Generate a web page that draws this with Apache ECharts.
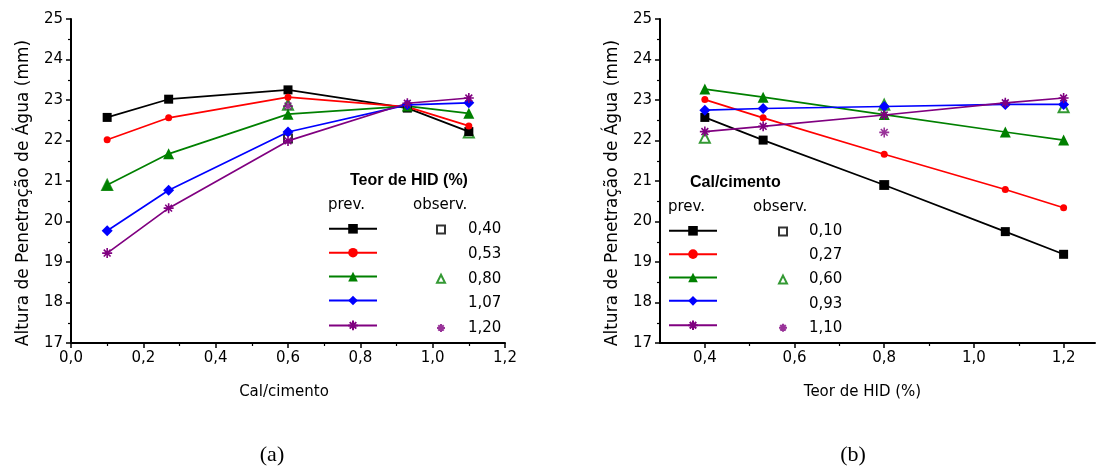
<!DOCTYPE html>
<html>
<head>
<meta charset="utf-8">
<script src="https://cdn.jsdelivr.net/npm/echarts@6/dist/echarts.min.js"></script>
<style>
html,body{margin:0;padding:0;background:#fff;}
#chart{width:1096px;height:468px;}
</style>
</head>
<body>
<div id="chart"></div>
<script>
// ---------- DATA ----------
const calCimento = [0.1, 0.27, 0.6, 0.93, 1.1];       // x of panel (a)
const teorHID = [0.4, 0.53, 0.8, 1.07, 1.2];          // x of panel (b)
const hidLabels = ['0,40', '0,53', '0,80', '1,07', '1,20'];
const calLabels = ['0,10', '0,27', '0,60', '0,93', '1,10'];
const yTicks = [17, 18, 19, 20, 21, 22, 23, 24, 25];
const xTicksA = [0.0, 0.2, 0.4, 0.6, 0.8, 1.0, 1.2];
const xTicksB = [0.4, 0.6, 0.8, 1.0, 1.2];
const xMinorB = [0.5, 0.7, 0.9, 1.1];

// panel (a): predicted, one series per HID content
const prevHid040 = [22.57, 23.02, 23.25, 22.80, 22.22];
const prevHid053 = [22.02, 22.56, 23.07, 22.83, 22.36];
const prevHid080 = [20.90, 21.67, 22.65, 22.85, 22.67];
const prevHid107 = [19.77, 20.77, 22.21, 22.88, 22.93];
const prevHid120 = [19.22, 20.33, 21.99, 22.92, 23.05];
// panel (a): observed
const obsHid040X = [0.6];            const obsHid040Y = [22.05];
const obsHid053X = [];               const obsHid053Y = [];
const obsHid080X = [0.1, 0.6, 1.1];  const obsHid080Y = [20.90, 22.88, 22.20];
const obsHid107X = [];               const obsHid107Y = [];
const obsHid120X = [0.6];            const obsHid120Y = [22.85];

// panel (b): predicted, one series per lime/cement ratio
const prevCal010 = [22.57, 22.01, 20.90, 19.75, 19.19];
const prevCal027 = [23.01, 22.56, 21.66, 20.79, 20.34];
const prevCal060 = [23.27, 23.07, 22.64, 22.21, 22.01];
const prevCal093 = [22.75, 22.79, 22.84, 22.89, 22.89];
const prevCal110 = [22.22, 22.35, 22.63, 22.93, 23.05];
// panel (b): observed
const obsCal010X = [0.8];            const obsCal010Y = [20.90];
const obsCal027X = [];               const obsCal027Y = [];
const obsCal060X = [0.4, 0.8, 1.2];  const obsCal060Y = [22.07, 22.88, 22.82];
const obsCal093X = [];               const obsCal093Y = [];
const obsCal110X = [0.8];            const obsCal110Y = [22.20];

// ---------- STYLE ----------
const colors = ['#000000', '#ff0000', '#008000', '#0000ff', '#800080'];
const ASTER = 'path://M5,0L5,10M0,5L10,5M1.6,1.6L8.4,8.4M1.6,8.4L8.4,1.6';
const prevSymbols = ['rect', 'circle', 'triangle', 'diamond', ASTER];
const prevSizes = [9, 7, 11, 11, 10];
const obsSymbols = ['emptyRect', 'none', 'emptyTriangle', 'none', ASTER];
const obsSizes = [8, 0, 10, 0, 10];
const FONT = 'DejaVu Sans';
const fmt1 = v => (Math.round(v * 10) / 10).toFixed(1).replace('.', ',');

const zip = (xs, ys) => xs.map((x, i) => [x, ys[i]]);

function prevSeries(name, xs, ys, i, gi) {
  const isAst = i === 4;
  return {
    name: name, type: 'line', xAxisIndex: gi, yAxisIndex: gi,
    data: zip(xs, ys),
    symbol: prevSymbols[i], symbolSize: prevSizes[i], showSymbol: true,
    lineStyle: { color: colors[i], width: 1.7 },
    itemStyle: { color: colors[i], borderColor: colors[i], borderWidth: isAst ? 1.6 : 0 },
    emphasis: { disabled: true }, z: 3
  };
}
function obsSeries(name, xs, ys, i, gi) {
  return {
    name: name, type: 'scatter', xAxisIndex: gi, yAxisIndex: gi,
    data: zip(xs, ys),
    symbol: obsSymbols[i] === 'none' ? 'circle' : obsSymbols[i], symbolSize: obsSizes[i] || 6,
    itemStyle: { color: colors[i], borderColor: colors[i], borderWidth: 1.6 },
    emphasis: { disabled: true }, z: 2
  };
}

const prevA = [prevHid040, prevHid053, prevHid080, prevHid107, prevHid120];
const obsAX = [obsHid040X, obsHid053X, obsHid080X, obsHid107X, obsHid120X];
const obsAY = [obsHid040Y, obsHid053Y, obsHid080Y, obsHid107Y, obsHid120Y];
const prevB = [prevCal010, prevCal027, prevCal060, prevCal093, prevCal110];
const obsBX = [obsCal010X, obsCal027X, obsCal060X, obsCal093X, obsCal110X];
const obsBY = [obsCal010Y, obsCal027Y, obsCal060Y, obsCal093Y, obsCal110Y];

const series = [];
const labelMap = {};
const legPrevA = [], legObsA = [], legPrevB = [], legObsB = [];
for (let i = 0; i < 5; i++) {
  const pn = 'A prev ' + hidLabels[i], on = 'A obs ' + hidLabels[i];
  series.push(prevSeries(pn, calCimento, prevA[i], i, 0));
  series.push(obsSeries(on, obsAX[i], obsAY[i], i, 0));
  labelMap[on] = hidLabels[i];
  legPrevA.push(pn);
  legObsA.push({ name: on, icon: obsSymbols[i] });
}
for (let i = 0; i < 5; i++) {
  const pn = 'B prev ' + calLabels[i], on = 'B obs ' + calLabels[i];
  series.push(prevSeries(pn, teorHID, prevB[i], i, 1));
  series.push(obsSeries(on, obsBX[i], obsBY[i], i, 1));
  labelMap[on] = calLabels[i];
  legPrevB.push(pn);
  legObsB.push({ name: on, icon: obsSymbols[i] });
}

const axisLineS = { show: true, lineStyle: { color: '#000', width: 2 } };
const labelS = { color: '#000', fontFamily: FONT, fontSize: 15 };

function yAxis(gi) {
  return {
    type: 'value', gridIndex: gi, min: yTicks[0], max: yTicks[yTicks.length - 1], interval: 1,
    axisLine: axisLineS,
    axisTick: { show: true, length: 5, lineStyle: { color: '#000', width: 1.5 } },
    minorTick: { show: true, splitNumber: 2, length: 3, lineStyle: { color: '#000', width: 1.2 } },
    axisLabel: Object.assign({ margin: 8, formatter: v => String(v) }, labelS),
    splitLine: { show: false }, minorSplitLine: { show: false },
    name: 'Altura de Penetração de Água (mm)', nameLocation: 'middle', nameGap: 39,
    nameTextStyle: { color: '#000', fontFamily: FONT, fontSize: 17, padding: [0, 24, 0, 0] }
  };
}

const legendCommon = { orient: 'vertical', selectedMode: false, padding: 0, inactiveColor: '#000' };

const option = {
  animation: false,
  backgroundColor: '#ffffff',
  grid: [
    { left: 71, top: 19, width: 434, height: 324 },
    { left: 660, top: 19, width: 435, height: 324 }
  ],
  xAxis: [
    {
      type: 'value', gridIndex: 0, min: xTicksA[0], max: xTicksA[xTicksA.length - 1], interval: 0.2,
      axisLine: axisLineS,
      axisTick: { show: true, length: 5, lineStyle: { color: '#000', width: 1.5 } },
      minorTick: { show: true, splitNumber: 2, length: 3, lineStyle: { color: '#000', width: 1.2 } },
      axisLabel: Object.assign({ margin: 8, formatter: fmt1 }, labelS),
      splitLine: { show: false }, minorSplitLine: { show: false },
      name: 'Cal/cimento', nameLocation: 'middle', nameGap: 42,
      nameTextStyle: { color: '#000', fontFamily: FONT, fontSize: 15, padding: [0, 8, 0, 0] }
    },
    {
      type: 'value', gridIndex: 1, min: 0.3, max: 1.27,
      axisLine: axisLineS,
      axisTick: { show: true, length: 5, customValues: xTicksB, lineStyle: { color: '#000', width: 1.5 } },
      axisLabel: Object.assign({ margin: 8, customValues: xTicksB, formatter: fmt1 }, labelS),
      splitLine: { show: false },
      name: 'Teor de HID (%)', nameLocation: 'middle', nameGap: 42,
      nameTextStyle: { color: '#000', fontFamily: FONT, fontSize: 15, padding: [0, 30, 0, 0] }
    },
    {
      type: 'value', gridIndex: 1, min: 0.3, max: 1.27, position: 'bottom',
      axisLine: { show: false },
      axisTick: { show: true, length: 3, customValues: xMinorB, lineStyle: { color: '#000', width: 1.2 } },
      axisLabel: { show: false }, splitLine: { show: false }
    }
  ],
  yAxis: [yAxis(0), yAxis(1)],
  title: [
    { text: 'Teor de HID (%)', left: 350, top: 173, padding: 0,
      textStyle: { fontFamily: 'Liberation Sans', fontWeight: 'bold', fontSize: 16, color: '#000' } },
    { text: 'prev.', left: 328, top: 198, padding: 0, textStyle: { fontFamily: FONT, fontWeight: 'normal', fontSize: 15, color: '#000' } },
    { text: 'observ.', left: 413, top: 198, padding: 0, textStyle: { fontFamily: FONT, fontWeight: 'normal', fontSize: 15, color: '#000' } },
    { text: 'Cal/cimento', left: 690, top: 175, padding: 0,
      textStyle: { fontFamily: 'Liberation Sans', fontWeight: 'bold', fontSize: 16, color: '#000' } },
    { text: 'prev.', left: 668, top: 200, padding: 0, textStyle: { fontFamily: FONT, fontWeight: 'normal', fontSize: 15, color: '#000' } },
    { text: 'observ.', left: 753, top: 200, padding: 0, textStyle: { fontFamily: FONT, fontWeight: 'normal', fontSize: 15, color: '#000' } }
  ],
  legend: [
    Object.assign({}, legendCommon, {
      left: 328, top: 224, itemWidth: 48, itemHeight: 12, itemGap: 14.3, data: legPrevA,
      formatter: () => '', textStyle: { fontSize: 10, lineHeight: 10 }
    }),
    Object.assign({}, legendCommon, {
      left: 436, top: 222, itemWidth: 8, itemHeight: 8, itemGap: 9.6, data: legObsA,
      formatter: n => labelMap[n],
      textStyle: { fontFamily: FONT, fontSize: 15, color: '#000', lineHeight: 12, padding: [0, 0, 0, 18] }
    }),
    Object.assign({}, legendCommon, {
      left: 668, top: 226, itemWidth: 48, itemHeight: 12, itemGap: 13.75, data: legPrevB,
      formatter: () => '', textStyle: { fontSize: 10, lineHeight: 10 }
    }),
    Object.assign({}, legendCommon, {
      left: 778, top: 224, itemWidth: 8, itemHeight: 8, itemGap: 9.05, data: legObsB,
      formatter: n => labelMap[n],
      textStyle: { fontFamily: FONT, fontSize: 15, color: '#000', lineHeight: 12, padding: [0, 0, 0, 17] }
    })
  ],
  graphic: [
    { type: 'text', x: 272, y: 455, style: { text: '(a)', textAlign: 'center', textVerticalAlign: 'middle',
      font: '22px "Liberation Serif"', fill: '#000' } },
    { type: 'text', x: 853, y: 455, style: { text: '(b)', textAlign: 'center', textVerticalAlign: 'middle',
      font: '22px "Liberation Serif"', fill: '#000' } }
  ],
  series: series
};

const chart = echarts.init(document.getElementById('chart'), null, { renderer: 'canvas' });
chart.setOption(option);
</script>
</body>
</html>
